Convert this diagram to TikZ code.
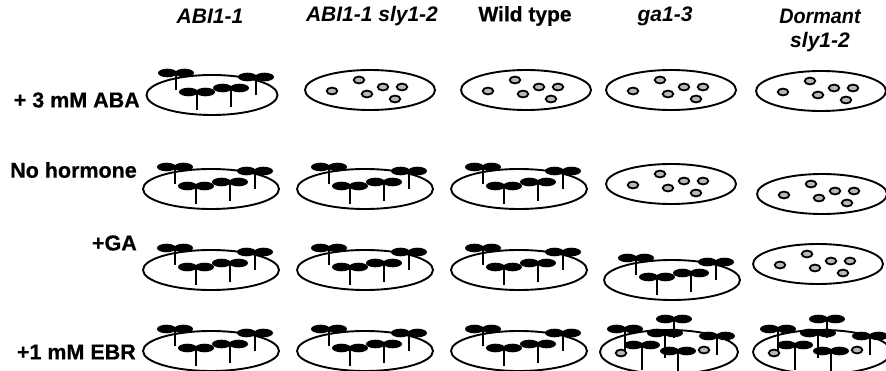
\documentclass[tikz,border=0pt]{standalone}
\usepackage{graphicx}
\usepackage{fontspec}
\setmainfont{Liberation Sans}[BoldFeatures={FakeBold=0.6}]

% one seedling: stem x, cotyledon y, stem end y
\newcommand\sprout[3]{%
  \draw[stemline] (#1,#2) -- (#1,#3);
  \fill (#1-8.5,#2) ellipse [x radius=9.5pt,y radius=4.3pt];
  \fill (#1+8.5,#2) ellipse [x radius=9.5pt,y radius=4.3pt];}

% one ungerminated seed
\newcommand\seedat[2]{\draw[seedfill] (#1,#2) ellipse [x radius=5.3pt,y radius=3.4pt];}

% plate of germinated seedlings, centre x, y, half width
\newcommand\grownplate[3][68]{%
  \draw[plate] (#2,#3) ellipse [x radius=#1pt,y radius=20pt];
  \sprout{#2-36}{#3-22}{#3-5}
  \sprout{#2-15}{#3-3}{#3+15}
  \sprout{#2+19}{#3-7}{#3+12}
  \sprout{#2+44}{#3-18}{#3}}

% plate of seeds that stay dormant, centre x, y
\newcommand\seedplate[2]{%
  \draw[plate] (#1,#2) ellipse [x radius=65pt,y radius=20pt];
  \seedat{#1-38}{#2+1}
  \seedat{#1-11}{#2-10}
  \seedat{#1-3}{#2+4}
  \seedat{#1+13}{#2-3}
  \seedat{#1+32}{#2-3}
  \seedat{#1+25}{#2+9}}

% plate where most seeds germinate and a few do not
\newcommand\mixedplate[2]{%
  \draw[plate] (#1,#2) ellipse [x radius=69pt,y radius=22pt];
  \sprout{#1-44}{#2-23}{#2}
  \sprout{#1+5}{#2-33}{#2-14}
  \sprout{#1-4}{#2-19}{#2+6}
  \sprout{#1-27}{#2-7}{#2+18}
  \sprout{#1+9}{#2-1}{#2+22}
  \sprout{#1+48}{#2-16}{#2+3}
  \seedat{#1-48}{#2+1}
  \seedat{#1+35}{#2-2}}

\begin{document}
\begin{tikzpicture}[x=1pt,y=-1pt,
  plate/.style={draw=black,line width=1.9pt},
  stemline/.style={line width=2.5pt},
  seedfill/.style={fill=black!28,draw=black,line width=1.8pt},
  rowlabel/.style={font=\fontsize{21.5}{24}\selectfont\bfseries,anchor=east,inner sep=0pt},
  colhead/.style={font=\fontsize{21}{26}\selectfont\bfseries\itshape,inner sep=0pt}]
\useasboundingbox (0,0) rectangle (886,371);

% column headings
\node[colhead] (h1) at (210,16) {ABI1-1};
\node[colhead] (h2) at (372,16) {ABI1-1 sly1-2};
\node[colhead,font=\fontsize{21}{26}\selectfont\bfseries] (h3) at (525,16) {Wild type};
\node[colhead] (h4) at (665,16) {ga1-3};
\node[colhead] (h5a) at (820,16) {\scalebox{0.94}[1]{Dormant}};
\node[colhead] (h5b) at (820,42) {sly1-2};

% row labels
\node[rowlabel] (r1) at (140,100) {+ 3 mM ABA};
\node[rowlabel] (r2) at (137,170) {No hormone};
\node[rowlabel] (r3) at (137,243) {+GA};
\node[rowlabel] (r4) at (136,352) {+1 mM EBR};

% + 3 mM ABA
\grownplate[65.5]{212}{95}
\seedplate{370}{90}
\seedplate{526}{90}
\seedplate{671}{90}
\seedplate{821}{91}

% no hormone
\grownplate{211}{189}
\grownplate{365}{189}
\grownplate{519}{189}
\seedplate{671}{184}
\seedplate{822}{194}

% + GA
\grownplate{211}{270}
\grownplate{365}{270}
\grownplate{519}{270}
\grownplate{672}{280}
\seedplate{818}{264}

% + 1 mM EBR
\grownplate{211}{351}
\grownplate{365}{351}
\grownplate{519}{351}
\mixedplate{669}{352}
\mixedplate{822}{352}
\end{tikzpicture}
\end{document}
